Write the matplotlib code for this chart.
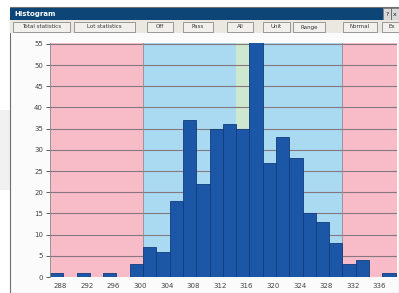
import matplotlib
matplotlib.use("Agg")
import matplotlib.pyplot as plt
import matplotlib.transforms as mtransforms
from matplotlib.patches import Rectangle

# histogram data (bin width 2)
bin_edges = [286, 288, 290, 292, 294, 296, 298, 300, 302, 304, 306, 308, 310, 312,
             314, 316, 318, 320, 322, 324, 326, 328, 330, 332, 334, 336]
counts = [1, 0, 1, 0, 1, 0, 3, 7, 6, 18, 37, 22, 35, 36,
          35, 58, 27, 33, 28, 15, 13, 8, 3, 4, 0, 1]
x_ticks = [288, 292, 296, 300, 304, 308, 312, 316, 320, 324, 328, 332, 336]
y_ticks = [0, 5, 10, 15, 20, 25, 30, 35, 40, 45, 50, 55]
lsl, usl = 300, 330
mean_bin = 314
buttons = ["Total statistics", "Lot statistics", "Off", "Pass", "All", "Unit", "Range", "Normal", "Ex"]
button_x = [13, 74, 147, 183, 227, 263, 293, 343, 382]
button_w = [57, 61, 26, 30, 26, 27, 32, 34, 20]

W, H = 399, 293
fig = plt.figure(figsize=(W / 100, H / 100), dpi=100)
fig.patch.set_facecolor("white")

def px_rect(x, y, w, h, **kw):
    # rectangle in pixel coords, y from top
    r = Rectangle((x / W, 1 - (y + h) / H), w / W, h / H, transform=fig.transFigure,
                  zorder=-1, **kw)
    fig.patches.append(r)

# window chrome
px_rect(0, 110, 10, 80, facecolor="#f1f1f1", edgecolor="none")
px_rect(10, 7, 389, 286, facecolor="#fbfbfb", edgecolor="#707070", linewidth=0.8)
px_rect(10, 8, 373, 12, facecolor="#0d4676", edgecolor="none")
px_rect(383, 8, 8, 12, facecolor="#d8d8d8", edgecolor="#555555", linewidth=0.5)
px_rect(391, 8, 8, 12, facecolor="#d8d8d8", edgecolor="#555555", linewidth=0.5)
fig.text(387 / W, 1 - 14 / H, "?", fontsize=4.5, ha="center", va="center", color="#222222")
fig.text(395 / W, 1 - 14 / H, "x", fontsize=4.5, ha="center", va="center", color="#222222")
fig.text(14 / W, 1 - 14 / H, "Histogram", fontsize=5, color="white", fontweight="bold", va="center")
px_rect(10, 20, 389, 13, facecolor="#ebe8e2", edgecolor="none")
for lab, bx, bw in zip(buttons, button_x, button_w):
    px_rect(bx, 22, bw, 10, facecolor="#f2f0ec", edgecolor="#8a8a8a", linewidth=0.6)
    fig.text((bx + bw / 2) / W, 1 - 27 / H, lab, fontsize=4, ha="center", va="center", color="#333333")

ax = fig.add_axes([50 / W, 16 / H, 347 / W, 234 / H])
ax.set_zorder(5)
ax.set_xlim(286, 338.2)
ax.set_ylim(0, 55.2)

ax.axvspan(286, lsl, color="#f7bcc8", zorder=0, lw=0)
ax.axvspan(lsl, usl, color="#a9daf1", zorder=0, lw=0)
ax.axvspan(usl, 338.2, color="#f7bcc8", zorder=0, lw=0)
ax.axvspan(mean_bin, mean_bin + 2, color="#cde8cf", zorder=0.5, lw=0)
for v in y_ticks[1:]:
    ax.axhline(v, color="#877880", lw=0.8, zorder=1)
ax.axvline(lsl, color="#9a8a90", lw=0.6, zorder=1)
ax.axvline(usl, color="#9a8a90", lw=0.6, zorder=1)

ax.bar(bin_edges, counts, width=2, align="edge", color="#1b57a6",
       edgecolor="#103c7c", linewidth=0.6, zorder=2)

ax.set_xticks(x_ticks)
ax.set_xticklabels([str(t) for t in x_ticks])
ax.set_yticks(y_ticks)
ax.set_yticklabels([str(t) for t in y_ticks])
ax.tick_params(axis="both", labelsize=5, colors="#444444", length=3, width=0.6, pad=2)
ax.tick_params(axis="x", length=0, pad=4)
shift = mtransforms.ScaledTranslation(-3 / 100, 0, fig.dpi_scale_trans)
for lab in ax.get_xticklabels():
    lab.set_transform(lab.get_transform() + shift)
for s in ax.spines.values():
    s.set_visible(False)
ax.spines["left"].set_visible(True)
ax.spines["left"].set_color("#8a8a8a")
ax.spines["left"].set_linewidth(0.6)

fig.savefig("out.png", dpi=100)
